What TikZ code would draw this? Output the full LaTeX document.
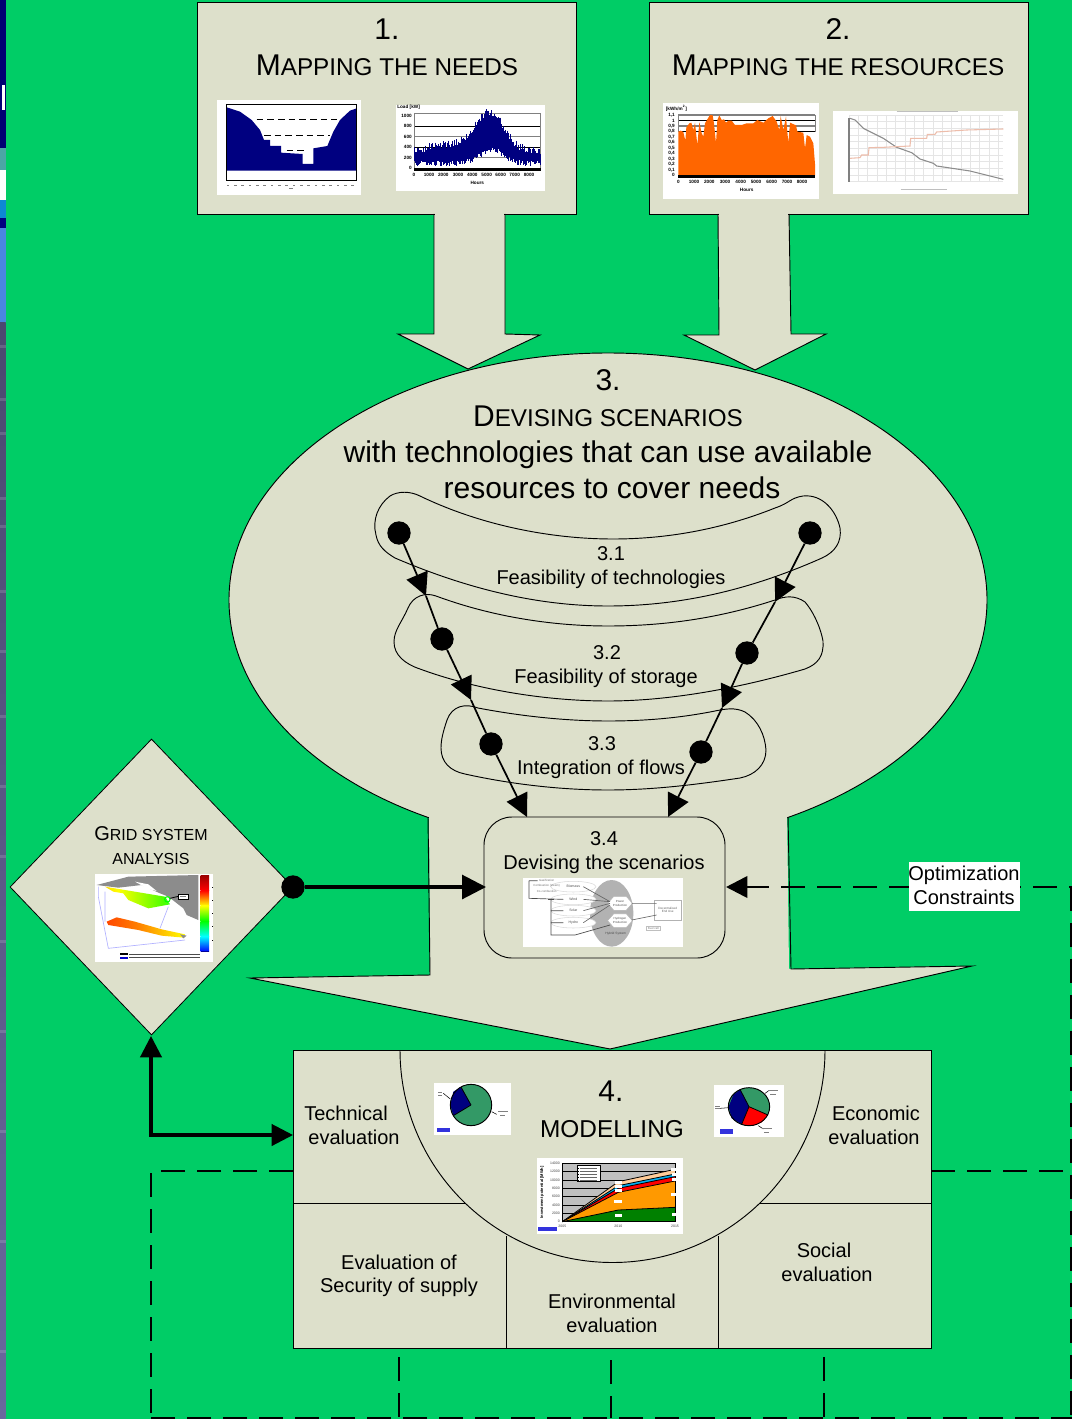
\documentclass[tikz,border=0pt]{standalone}
\usepackage{fontspec}
\setmainfont{Liberation Sans}
\usetikzlibrary{arrows.meta,shapes.geometric,calc}
\definecolor{bggreen}{RGB}{0,205,102}
\definecolor{panel}{RGB}{221,224,203}
\definecolor{navy}{RGB}{0,0,128}
\definecolor{pgreen}{RGB}{51,153,102}
\definecolor{orangeA}{RGB}{255,102,0}
\definecolor{blueTag}{RGB}{51,51,221}
\definecolor{stripA}{RGB}{74,134,224}
\definecolor{stripB}{RGB}{75,73,112}
\definecolor{stripC}{RGB}{106,104,158}
\definecolor{peach}{RGB}{255,204,153}
\definecolor{areaO}{RGB}{255,153,0}
\definecolor{areaG}{RGB}{0,128,0}
\pgfdeclarehorizontalshading{bandA}{100bp}{color(0bp)=(orange);color(35bp)=(yellow);color(70bp)=(green!70!yellow);color(100bp)=(cyan!70!green)}
\pgfdeclarehorizontalshading{bandB}{100bp}{color(0bp)=(red);color(45bp)=(orange);color(75bp)=(yellow);color(100bp)=(green!60!yellow)}
\newcommand{\SC}[1]{{\fontsize{18.2}{22}\selectfont #1}}
\newcommand{\SCs}[1]{{\fontsize{12}{16}\selectfont #1}}
\tikzset{
  outl/.style={draw=black,line width=0.7pt,line join=miter},
  panelbox/.style={fill=panel,draw=black,line width=0.6pt},
  thinline/.style={draw=black,line width=0.7pt},
  title/.style={font=\fontsize{22.5}{26}\selectfont,inner sep=0pt,anchor=center},
  body/.style={font=\fontsize{15}{18}\selectfont,inner sep=0pt,anchor=center},
  dot/.style={circle,fill=black,inner sep=0pt,minimum size=17.5pt},
  conn/.style={draw=black,line width=1.3pt,-{Triangle[length=17pt,width=17pt]}},
  plainconn/.style={draw=black,line width=1.3pt},
  thickconn/.style={draw=black,line width=2.3pt},
  dashline/.style={draw=black,line width=2pt,dash pattern=on 18pt off 9pt},
  tinyt/.style={font=\fontsize{3.5}{3.9}\selectfont\bfseries,inner sep=0pt},
  tinyg/.style={font=\fontsize{2.6}{3}\selectfont,inner sep=0pt,text=black!60},
}
\begin{document}
\begin{tikzpicture}[x=0.75pt,y=-0.75pt]
\useasboundingbox (0,0) rectangle (1072,1419);
\fill[bggreen] (0,0) rectangle (1072,1419);
% left strip
\fill[navy!90!black] (0,0) rectangle (5.7,148);
\fill[white] (1.5,85) rectangle (5,110);
\fill[teal!70!white] (0,148) rectangle (5.7,170);
\fill[white] (0,170) rectangle (5.7,200);
\fill[cyan!70!blue] (0,200) rectangle (5.7,218);
\fill[navy] (0,218) rectangle (5.7,228);
\fill[stripA] (0,228) rectangle (5.7,322);
\shade[top color=stripB,bottom color=stripC] (0,322) rectangle (5.7,1419);
\foreach \yy in {345,398,432,497,525,590,650,715,785,855,940,1030,1130,1240,1350}
  \fill[white,opacity=.15] (0,\yy) rectangle (5.7,\yy+3);

% block arrows top
\fill[panel] (434,210) -- (505,210) -- (505,334) -- (540,335) -- (468,369) -- (398,334) -- (434,334) -- cycle;
\fill[panel] (718,210) -- (789,210) -- (791,334) -- (826,334) -- (755,370) -- (684,335) -- (719,335) -- cycle;

% boxes 1 and 2
\node[panelbox,minimum width=284.25pt,minimum height=159pt,inner sep=0pt] (box1) at (387,108) {};
\node[panelbox,minimum width=284.25pt,minimum height=159pt,inner sep=0pt] (box2) at (838.5,108) {};
\fill[panel] (435,205) rectangle (504,216);
\fill[panel] (719,205) rectangle (788,216);
\draw[outl] (434,214) -- (434,334) -- (398,334) -- (468,369) -- (540,335) -- (505,334) -- (505,214);
\draw[outl] (718,214) -- (719,335) -- (684,335) -- (755,370) -- (826,334) -- (791,334) -- (789,214);

\node[title] (t1) at (387,29) {1.};
\node[title] (t1b) at (387,68.5) {\strut M\SC{APPING THE NEEDS}};
\node[title] (t2) at (838,29) {2.};
\node[title] (t2b) at (838,68.5) {\strut M\SC{APPING THE RESOURCES}};

% ===== chart A
\begin{scope}[shift={(190,90)},scale=1/3]
\fill[white] (81,30) rectangle (513,315);
\fill[navy] (110,52) -- (150,65) -- (185,90) -- (210,120) -- (222,150) -- (240,150) -- (240,168) -- (273,168) -- (273,188) -- (305,190) -- (338,192) -- (338,222) -- (370,222) -- (370,175) -- (412,168) -- (430,125) -- (450,90) -- (480,62) -- (500,55) -- (500,242) -- (110,242) -- cycle;
\draw[black,line width=.5pt] (110,42) rectangle (500,272);
\draw[black,line width=.5pt,dash pattern=on 5pt off 3pt] (200,88) -- (440,88) (222,135) -- (420,135) (290,182) -- (345,182);
\foreach \xx in {110,132,...,490} \fill[black!50] (\xx,284) rectangle +(8,2);
\fill[black!50] (296,293) rectangle +(14,2);
\end{scope}
% ===== chart B
\begin{scope}[shift={(190,90)},scale=1/3]
\fill[white] (618,45) rectangle (1065,302);
\foreach \yy/\cc in {70/gray,109/black,140/gray,172/black,203/gray} \draw[\cc,line width=.7pt] (672,\yy) -- (1052,\yy);
\draw[gray,line width=.5pt] (672,70) -- (672,235) (1052,70) -- (1052,235);
\pgfmathsetseed{7}
\foreach \xx in {672,675,...,1052}{
  \pgfmathsetmacro{\hh}{195-110*exp(-((\xx-900)/60)^2)-22*exp(-((\xx-800)/100)^2)-rnd*24}
  \pgfmathsetmacro{\ll}{218-40*exp(-((\xx-905)/50)^2)+rnd*16-6}
  \draw[navy,line width=.75pt] (\xx,\hh) -- (\xx,\ll);
}
\fill[black] (672,235) rectangle (1052,243);
\node[tinyt,anchor=west] (lk) at (621,52) {Load [kW]};
\foreach \yy/\tt in {78/1000,109/800,140/600,172/400,203/200,235/0} \node[tinyt,anchor=east] at (666,\yy) {\tt};
\foreach \xx/\tt in {672/0,717/1000,760/2000,804/3000,847/4000,890/5000,932/6000,974/7000,1017/8000} \node[tinyt] at (\xx,256) {\tt};
\node[tinyt] (lh) at (862,280) {Hours};
\end{scope}
% ===== chart C
\begin{scope}[shift={(650,90)},scale=1/3]
\fill[white] (40,40) rectangle (507,326);
\foreach \yy/\cc in {75/gray,92/black,108/gray,125/black} \draw[\cc,line width=.8pt] (85,\yy) -- (495,\yy);
\draw[gray,line width=.6pt] (85,75) -- (85,125) (495,75) -- (495,125);
\fill[orangeA] (85,256) -- (85,125) -- (92,122) -- (100,126) -- (106,152) -- (109,112) -- (118,100) -- (124,98) -- (130,120) -- (135,98) -- (142,165) -- (148,96) -- (155,130) -- (160,140) -- (165,100) -- (172,88) -- (180,75) -- (188,76) -- (192,100) -- (198,160) -- (202,90) -- (208,76) -- (215,90) -- (222,88) -- (228,98) -- (235,92) -- (245,92) -- (255,105) -- (275,105) -- (290,100) -- (310,100) -- (322,90) -- (340,98) -- (355,85) -- (368,78) -- (380,95) -- (388,120) -- (392,78) -- (400,120) -- (408,80) -- (415,158) -- (420,98) -- (438,106) -- (442,125) -- (460,128) -- (465,175) -- (470,135) -- (480,140) -- (490,160) -- (495,222) -- (495,256) -- cycle;
\fill[black] (85,256) rectangle (495,263);
\node[tinyt,anchor=west] (lm) at (47,56) {[kWh/m\textsuperscript{2}]};
\foreach \yy/\tt in {76/{1,1},92/1,108/{0,9},125/{0,8},141/{0,7},157/{0,6},174/{0,5},190/{0,4},207/{0,3},223/{0,2},240/{0,1},256/0} \node[tinyt,anchor=east] at (75,\yy) {\tt};
\foreach \xx/\tt in {85/0,132/1000,178/2000,225/3000,272/4000,318/5000,365/6000,411/7000,456/8000} \node[tinyt] at (\xx,275) {\tt};
\node[tinyt] (lh2) at (290,300) {Hours};
\end{scope}
% ===== chart D
\begin{scope}[shift={(650,90)},scale=1/3]
\fill[white] (550,63) rectangle (1103,311);
\foreach \xx in {597,625,...,1065} \draw[black!10,line width=.3pt] (\xx,75) -- (\xx,275);
\foreach \yy in {75,95,...,275} \draw[black!10,line width=.3pt] (597,\yy) -- (1060,\yy);
\draw[black!50,line width=.9pt] (597,85) -- (597,275);
\draw[black!25,line width=.4pt] (740,63) -- (925,63) (752,297) -- (892,297);
\draw[black!45,line width=.8pt] (600,85) -- (615,90) -- (640,115) -- (700,145) -- (740,172) -- (785,188) -- (810,207) -- (850,220) -- (860,228) -- (960,243) -- (1060,268);
\draw[red!30!brown!40!white,line width=.8pt] (600,205) -- (630,203) -- (635,195) -- (655,195) -- (657,173) -- (700,172) -- (780,168) -- (782,145) -- (830,145) -- (832,133) -- (855,133) -- (860,126) -- (950,120) -- (1060,117);
\end{scope}

% ===== big ellipse and arrow
\node[ellipse,fill=panel,draw=black,line width=.7pt,minimum width=568.5pt,minimum height=370.5pt,inner sep=0pt] (big) at (608,600) {};
\fill[panel] (429,806) -- (787,806) -- (789,969) -- (971,966) -- (610,1049) -- (250,978) -- (430,975) -- cycle;
\draw[outl] (428,817) -- (430,975) -- (250,978) -- (610,1049) -- (972,966) -- (791,969) -- (788,817);

\node[title] (t3) at (608,380) {3.};
\node[title] (t3b) at (608,419.5) {\strut D\SC{EVISING SCENARIOS}};
\node[title] (t3c) at (608,455) {with technologies that can use available};
\node[title] (t3d) at (612,488) {resources to cover needs};

% bands
\draw[thinline] (420,496) .. controls (410,491) and (398,491) .. (390,496) .. controls (378,505) and (372,520) .. (376,535) .. controls (378,546) and (385,552) .. (395,558) .. controls (470,590) and (540,606) .. (608,606) .. controls (680,606) and (750,590) .. (822,558) .. controls (835,552) and (842,542) .. (840,528) .. controls (836,510) and (822,494) .. (803,496) .. controls (790,498) and (790,503) .. (775,508) .. controls (720,530) and (665,539) .. (613,539) .. controls (550,539) and (480,525) .. (420,496) -- cycle;
\draw[thinline] (436,596) .. controls (425,592) and (413,596) .. (408,608) .. controls (402,622) and (394,630) .. (394,642) .. controls (394,655) and (405,664) .. (420,669) .. controls (480,691) and (550,701) .. (608,701) .. controls (670,701) and (740,688) .. (805,669) .. controls (818,664) and (824,656) .. (823,641) .. controls (820,625) and (812,610) .. (805,602) .. controls (795,595) and (785,596) .. (775,600) .. controls (720,618) and (665,626) .. (608,626) .. controls (550,626) and (490,616) .. (436,596) -- cycle;
\draw[thinline] (478,708) .. controls (465,703) and (452,706) .. (447,720) .. controls (443,732) and (441,740) .. (441,748) .. controls (441,762) and (450,771) .. (465,774) .. controls (510,784) and (560,790) .. (608,790) .. controls (655,790) and (700,784) .. (740,778) .. controls (755,775) and (766,765) .. (766,750) .. controls (765,735) and (758,720) .. (745,712) .. controls (735,707) and (725,709) .. (715,711) .. controls (680,718) and (645,721) .. (608,721) .. controls (565,721) and (520,716) .. (478,708) -- cycle;

\node[body] (l31) at (611,554) {3.1};
\node[body] (l31b) at (611,579) {Feasibility of technologies};
\node[body] (l32) at (607,653) {3.2};
\node[body] (l32b) at (606,678) {Feasibility of storage};
\node[body] (l33) at (602,744) {3.3};
\node[body] (l33b) at (601,769) {Integration of flows};

% box 3.4
\node[draw=black,line width=.7pt,fill=panel,rounded corners=21pt,minimum width=180.75pt,minimum height=105.75pt,inner sep=0pt] (b34) at (604.5,887.5) {};
\node[body] (l34) at (604,839) {3.4};
\node[body] (l34b) at (604,864) {Devising the scenarios};

% flow image
\begin{scope}[shift={(515,870)},scale=1/3]
\fill[white] (25,25) rectangle (505,232);
\fill[black!30] (290,130) ellipse [x radius=65,y radius=100];
\foreach \yy/\tt/\nn in {50/Biomass/eb,88/Wind/ew,122/Solar/es,158/Hydro/eh}
  \node[ellipse,draw=black!15,fill=white,minimum width=34pt,minimum height=8pt,inner sep=0pt,font=\fontsize{2.6}{3}\selectfont,text=black!70] (\nn) at (175,\yy) {\tt};
\node[regular polygon,regular polygon sides=6,fill=white,draw=black!30,minimum width=15pt,inner sep=0pt,xscale=1.25,yscale=.8] (hp) at (315,100) {};
\node[align=center,font=\fontsize{2.2}{2.6}\selectfont,text=black!70,inner sep=0pt] (hpt) at (315,100) {Power\\Production};
\node[regular polygon,regular polygon sides=6,fill=white,draw=black!30,minimum width=15pt,inner sep=0pt,xscale=1.25,yscale=.8] (hh) at (315,152) {};
\node[align=center,font=\fontsize{2.2}{2.6}\selectfont,text=black!70,inner sep=0pt] (hht) at (315,152) {Hydrogen\\Production};
\node[draw=black!30,fill=white,minimum width=20pt,minimum height=15pt,inner sep=0pt,align=center,font=\fontsize{2.3}{2.7}\selectfont,text=black!60] (eu) at (458,120) {Decentralised\\End Use};
\node[font=\fontsize{2.4}{3}\selectfont,text=black!70,inner sep=0pt] (hs) at (302,190) {Hybrid System};
\node[draw=black!25,font=\fontsize{2.2}{3}\selectfont,text=black!55,inner sep=1pt] (fc) at (415,175) {Fuel cell};
\node[font=\fontsize{2.2}{3}\selectfont,text=black!55,inner sep=0pt] (gs) at (95,32) {Gasification};
\node[font=\fontsize{2.2}{3}\selectfont,text=black!55,inner sep=0pt] (cb) at (95,48) {Combustion (steam)};
\node[font=\fontsize{2.2}{3}\selectfont,text=black!55,inner sep=0pt] (cc) at (95,65) {Co-combustion};
\draw[black!70,line width=.5pt] (42,32) -- (68,32) (42,32) -- (42,85) -- (145,88) (108,88) -- (108,195) -- (180,195) -- (285,165) (108,122) -- (145,122) (108,158) -- (145,158);
\draw[black!60,line width=.5pt] (205,50) -- (285,95) (205,88) -- (285,95) (205,122) -- (285,100) (205,158) -- (285,105) (350,100) -- (425,100) (350,150) -- (425,135);
\fill[black!70] (100,86) rectangle (118,91);
\end{scope}

% block diamond
\node[diamond,fill=panel,draw=black,line width=.6pt,minimum width=212.25pt,minimum height=222pt,inner sep=0pt] (gd) at (151.5,887) {};
\node[inner sep=0pt,font=\fontsize{15}{18}\selectfont] (gd1) at (151,836) {\strut G\SCs{RID SYSTEM}};
\node[inner sep=0pt,font=\fontsize{15}{18}\selectfont] (gd2) at (151,860) {\strut \SCs{ANALYSIS}};
% map image
\begin{scope}[shift={(85,865)},scale=1/3]
\fill[white] (30,27) rectangle (385,292);
\fill[black!45] (35,60) -- (130,35) -- (340,30) -- (340,165) -- (305,150) -- (295,130) -- (250,95) -- (225,85) -- (170,60) -- (100,68) -- cycle;
\draw[blue!30!white,line width=.5pt] (60,80) -- (60,170) (250,125) -- (225,190) (40,65) -- (40,95) -- (70,250) -- (300,225);
\shade[shading=bandA] (60,65) -- (120,75) -- (180,85) -- (240,95) -- (255,118) -- (190,130) -- (130,105) -- (115,85) -- (85,80) -- cycle;
\shade[shading=bandB] (65,170) -- (95,157) -- (150,170) -- (230,193) -- (300,208) -- (298,218) -- (230,212) -- (160,195) -- (70,180) -- cycle;
\fill[black!45] (285,208) -- (305,212) -- (295,220) -- cycle;
\fill[white] (150,50) -- (190,58) -- (215,78) -- (190,72) -- cycle;
\draw[green,line width=.8pt] (247,103) circle [radius=8];
\draw[black,line width=.6pt] (255,100) -- (280,94);
\fill[white,draw=black,line width=.7pt] (280,87) rectangle (310,102);
\fill[black!50] (286,93) rectangle (304,96);
\foreach \yy/\aa/\bb in {30/red!60!black/red,76/red/yellow,122/yellow/green,168/green/cyan,214/cyan/blue}
  \shade[top color=\aa,bottom color=\bb] (347,\yy) rectangle (372,\yy+46);
\fill[blue!60!black] (347,258) rectangle (372,262);
\fill[black] (105,265) rectangle (130,270);
\fill[blue!80!black] (105,277) rectangle (130,282);
\foreach \yy in {267,278} \fill[black!70] (132,\yy-1.5) rectangle (345,\yy+1.5);
\foreach \yy in {65,105,145,183,224} \fill[black] (380,\yy) rectangle (385,\yy+1);
\end{scope}

% bottom block
\node[panelbox,minimum width=478.5pt,minimum height=223.5pt,inner sep=0pt] (b4) at (612,1199) {};
\draw[thinline] (293,1203) -- (465,1203) (760,1203) -- (931,1203) (506,1236) -- (506,1348) (718,1236) -- (718,1348);
\draw[thinline] (400,1050) arc[start angle=180,end angle=0,radius=212.5];

\node[title] (t4) at (611,1091) {4.};
\node[title] (t4b) at (612,1129) {\fontsize{18.3}{22}\selectfont MODELLING};
\node[body] (e1a) at (346,1113) {Technical};
\node[body] (e1b) at (354,1137) {evaluation};
\node[body] (e2a) at (876,1113) {Economic};
\node[body] (e2b) at (874,1137) {evaluation};
\node[body] (e3a) at (399,1262) {Evaluation of};
\node[body] (e3b) at (399,1287) {Security of supply};
\node[body] (e4a) at (612,1301) {Environmental};
\node[body] (e4b) at (612,1325) {evaluation};
\node[body] (e5a) at (824,1250) {Social};
\node[body] (e5b) at (827,1274) {evaluation};

% pies and area chart
\begin{scope}[shift={(425,1075)},scale=1/3]
\fill[white] (27,25) rectangle (257,180);
\fill[pgreen] (138,90) circle [radius=62];
\fill[navy] (138,90) -- (108,36) -- (85,50) -- (76,90) -- (85,122) -- cycle;
\draw[black,line width=.7pt] (138,90) circle [radius=62];
\draw[black,line width=.6pt] (138,90) -- (108,36) (138,90) -- (85,122);
\draw[black,line width=.4pt] (55,55) -- (76,72) (200,110) -- (215,118);
\fill[black!50] (38,52) rectangle +(14,2);
\fill[black!50] (38,60) rectangle +(14,2);
\fill[black!50] (218,109) rectangle +(30,2);
\fill[black!50] (226,121) rectangle +(14,2);
\fill[blueTag] (37,158) rectangle (75,172);
%
\fill[white] (867,30) rectangle (1077,186);
\fill[pgreen] (972,95) ellipse [x radius=62,y radius=57];
\fill[navy] (972,95) -- (945,43) -- (925,60) -- (911,95) -- (920,130) -- (950,148) -- cycle;
\fill[red] (972,95) -- (1029,120) -- (1010,142) -- (985,152) -- (950,148) -- cycle;
\draw[black,line width=.7pt] (972,95) ellipse [x radius=62,y radius=57];
\draw[black,line width=.6pt] (945,43) -- (972,95) -- (1029,120) (972,95) -- (950,148);
\draw[black,line width=.4pt] (885,100) -- (911,98) (1000,152) -- (1015,162) (1020,55) -- (1030,48);
\fill[black!50] (870,92) rectangle +(14,2);
\fill[black!50] (870,100) rectangle +(14,2);
\fill[black!50] (1030,46) rectangle +(30,2);
\fill[black!50] (1036,56) rectangle +(16,2);
\fill[black!50] (1012,160) rectangle +(28,2);
\fill[black!50] (1016,170) rectangle +(16,2);
\fill[blueTag] (884,162) rectangle (923,176);
%
\fill[white] (336,249) rectangle (774,476);
\fill[black!25] (412,265) rectangle (750,440);
\foreach \yy in {265,290,315,340,365,390,415} \draw[black,line width=.5pt] (412,\yy) -- (750,\yy);
\foreach \cc/\tm/\tr in {peach/320/283,cyan/332/297,red/340/305,areaO/352/318,areaG/405/397}{
  \fill[\cc] (412,440) -- (580,\tm) -- (750,\tr) -- (750,440) -- cycle;
  \draw[black,line width=.6pt] (412,440) -- (580,\tm) -- (750,\tr);
}
\draw[black,line width=.6pt] (412,265) rectangle (750,440);
\fill[white,draw=black,line width=.6pt] (458,272) rectangle (526,320);
\foreach \yy in {279,288,297,306,315} {\fill[black] (458,\yy-1) rectangle (463,\yy+1); \fill[black!60] (466,\yy-.7) rectangle (515,\yy+.7);}
\foreach \xx/\yy in {570/321,569/334,569/347,568/380,570/420,738/284,742/297,741/312,738/357,740/417}
  \fill[white] (\xx,\yy-4) rectangle (\xx+22,\yy+5);
\foreach \yy/\tt in {440/0,415/2000,390/4000,365/6000,340/8000,315/10000,290/12000,265/14000} \node[tinyg,text=black!75,anchor=east] at (405,\yy) {\tt};
\foreach \xx/\tt in {412/2005,580/2010,750/2015} \node[tinyg,text=black!75] at (\xx,454) {\tt};
\node[tinyg,text=black,rotate=90,font=\fontsize{3}{3}\selectfont\bfseries] (ylab) at (351,352) {Investment potential [MWh]};
\fill[blueTag] (338,456) rectangle (397,468);
\end{scope}

% connectors
\node[dot] (d1) at (399,533) {};
\node[dot] (d2) at (810,533) {};
\node[dot] (d3) at (442,639) {};
\node[dot] (d4) at (747,653) {};
\node[dot] (d5) at (491,744) {};
\node[dot] (d6) at (701,752) {};
\node[dot] (d7) at (293,887) {};
\coordinate (a1) at (426,596);
\coordinate (a2) at (775,602);
\coordinate (a3) at (471,700);
\coordinate (a4) at (722,708);
\coordinate (a5) at (527,817);
\coordinate (a6) at (668,817);
\draw[plainconn] (a1) -- (d3);
\draw[plainconn] (a3) -- (d5);
\draw[plainconn] (a2) -- (d4);
\draw[plainconn] (a4) -- (d6);
\draw[conn] (d1) -- (a1);
\draw[conn] (d2) -- (a2);
\draw[conn] (d3) -- (a3);
\draw[conn] (d4) -- (a4);
\draw[conn] (d5) -- (a5);
\draw[conn] (d6) -- (a6);
\coordinate (b34w) at (486,887);
\draw[thickconn,-{Triangle[length=18pt,width=18pt]}] (d7) -- (b34w);

% loop arrow
\coordinate (gdS) at (151,1036);
\coordinate (corner) at (151,1135);
\coordinate (b4W) at (293,1135);
\draw[thickconn,{Triangle[length=16pt,width=16pt]}-{Triangle[length=16pt,width=16pt]},line join=miter] (gdS) -- (corner) -- (b4W);

% dashed
\coordinate (r1) at (726,887);
\draw[dashline] (745,887) -- (1072,887);
\draw[draw=black,-{Triangle[length=16pt,width=16pt]},line width=2pt] (748,887) -- (r1);
\draw[dashline] (1071,887) -- (1071,1419);
\draw[dashline] (931,1171) -- (1071,1171);
\draw[dashline] (293,1171) -- (151,1171) -- (151,1419);
\draw[dashline] (151,1418) -- (1072,1418);
\draw[dashline] (399,1357) -- (399,1418);
\draw[dashline] (611,1360) -- (611,1418);
\draw[dashline] (824,1357) -- (824,1418);

\node[fill=white,inner sep=0pt,minimum width=83.25pt,minimum height=36.75pt] (opt) at (964,886.5) {};
\node[body] (op1) at (964,875) {Optimization};
\node[body] (op2) at (964,897) {Constraints};
\end{tikzpicture}
\end{document}
